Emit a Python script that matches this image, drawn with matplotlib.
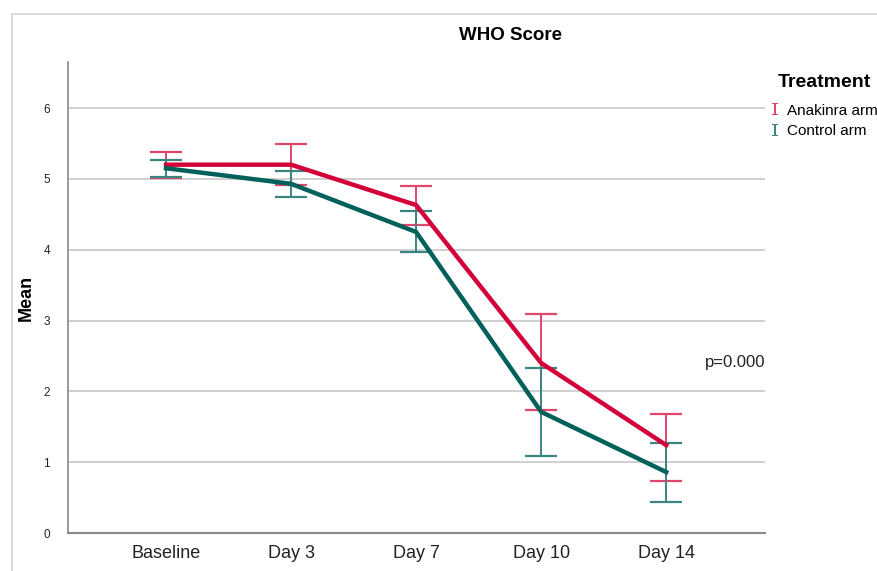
import matplotlib.pyplot as plt
from matplotlib.lines import Line2D
from matplotlib.patches import Rectangle

plt.rcParams["font.family"] = ["Liberation Sans", "DejaVu Sans"]

timepoints = ["Baseline", "Day 3", "Day 7", "Day 10", "Day 14"]

anakinra_mean = [5.20, 5.20, 4.63, 2.40, 1.24]
anakinra_upper = [5.38, 5.49, 4.90, 3.09, 1.68]
anakinra_lower = [5.01, 4.91, 4.35, 1.74, 0.73]

control_mean = [5.15, 4.93, 4.25, 1.71, 0.86]
control_upper = [5.27, 5.11, 4.55, 2.33, 1.27]
control_lower = [5.03, 4.74, 3.97, 1.09, 0.44]

red = "#D4003A"
red_err = "#E0466A"
teal = "#00605A"
teal_err = "#3A8580"

fig = plt.figure(figsize=(8.78, 5.71), dpi=100)
# light frame around the chart area
fig.patches.append(Rectangle((12 / 878, -0.1), 1.0, 1 - 14 / 571 + 0.1,
                             transform=fig.transFigure, fill=False,
                             edgecolor="#d4d4d4", linewidth=1.2))

ax = fig.add_axes([68 / 878, 38 / 571, (765 - 68) / 878, (533 - 62) / 571])

x = list(range(len(timepoints)))


def draw_series(mean, lower, upper, color, err_color, label):
    yerr = [[m - l for m, l in zip(mean, lower)],
            [u - m for m, u in zip(mean, upper)]]
    ax.errorbar(x, mean, yerr=yerr, fmt="none", ecolor=err_color,
                elinewidth=1.4, capsize=11.5, capthick=1.6, zorder=3)
    ax.plot(x, mean, color=color, linewidth=3.2, label=label, zorder=4,
            solid_joinstyle="miter")


draw_series(anakinra_mean, anakinra_lower, anakinra_upper, red, red_err,
            "Anakinra arm")
draw_series(control_mean, control_lower, control_upper, teal, teal_err,
            "Control arm")

ax.set_xlim(-0.784, 4.79)
ax.set_ylim(0, 6.65)
ax.set_xticks(x)
ax.set_xticklabels(timepoints, fontsize=13, color="#222222")
ax.set_yticks(range(0, 7))
ax.tick_params(axis="y", length=0, labelsize=8.5, pad=13, colors="#222222")
ax.tick_params(axis="x", length=0, pad=9)
ax.yaxis.grid(True, color="#c8c8c8", linewidth=1.2)
ax.set_axisbelow(True)
for side in ["top", "right"]:
    ax.spines[side].set_visible(False)
ax.spines["left"].set_color("#8a8a8a")
ax.spines["bottom"].set_color("#8a8a8a")
ax.spines["left"].set_linewidth(1.2)
ax.spines["bottom"].set_linewidth(1.5)

ax.set_ylabel("Mean", fontsize=13, fontweight="bold", labelpad=6)
fig.text(511 / 878, 1 - 35 / 571, "WHO Score", ha="center", va="center",
         fontsize=13.5, fontweight="bold")

ax.text(1.0, 2.41, "p=0.000", transform=ax.get_yaxis_transform(),
        ha="right", va="center", fontsize=12, color="#222222")

handles = [
    Line2D([], [], linestyle="none", marker="$\\mathtt{I}$", color=red_err,
           markersize=9, markeredgewidth=0),
    Line2D([], [], linestyle="none", marker="$\\mathtt{I}$", color=teal_err,
           markersize=9, markeredgewidth=0),
]
leg = fig.legend(handles, ["Anakinra arm", "Control arm"], title="Treatment",
                 loc="upper left", bbox_to_anchor=(764 / 878, 1 - 68 / 571),
                 frameon=False, fontsize=11, handlelength=0.6,
                 handletextpad=0.5, labelspacing=0.45, borderaxespad=0)
leg.get_title().set_fontweight("bold")
leg.get_title().set_fontsize(14)
leg._legend_box.sep = 9

fig.savefig("out.png", dpi=100)
plt.close(fig)
